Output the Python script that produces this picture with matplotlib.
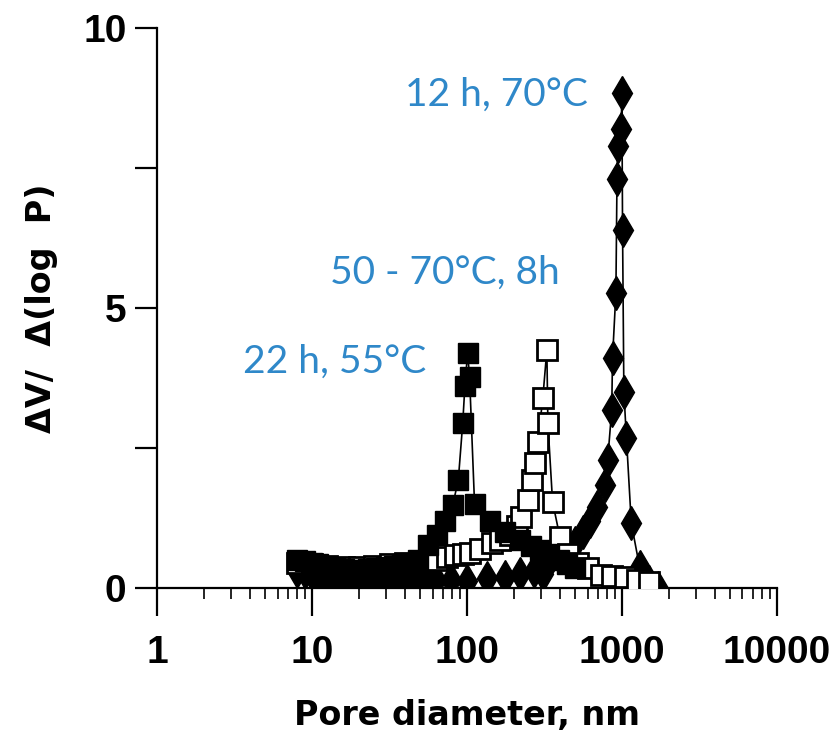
import numpy as np
import matplotlib.pyplot as plt
from matplotlib.ticker import FixedLocator, LogLocator, NullFormatter

# 22 h, 55 C  (filled squares)
d_55 = [8, 9, 10, 11, 12.5, 14, 16, 18, 20, 23, 26, 30, 34, 38, 43, 48, 56,
        64, 72, 81, 88, 94, 97, 101, 104, 112, 140, 176, 219, 260, 297, 340,
        390, 440, 500]
v_55 = [0.5, 0.48, 0.45, 0.42, 0.38, 0.35, 0.33, 0.32, 0.32, 0.33, 0.35, 0.38,
        0.4, 0.42, 0.45, 0.5, 0.77, 0.95, 1.2, 1.48, 1.93, 2.95, 3.6, 4.2, 3.77,
        1.5, 1.2, 1.0, 0.85, 0.75, 0.68, 0.6, 0.5, 0.42, 0.35]

# 50 - 70 C, 8h  (open squares)
d_5070 = [8, 10, 12.5, 16, 20, 25, 32, 40, 50, 64, 74, 84, 94, 105, 121, 145,
          163, 190, 210, 225, 248, 262, 275, 287, 309, 328, 333, 357, 398, 450,
          520, 600, 733, 864, 1050, 1250, 1500]
v_5070 = [0.45, 0.42, 0.4, 0.38, 0.38, 0.4, 0.42, 0.45, 0.48, 0.5, 0.55, 0.58,
          0.6, 0.62, 0.7, 0.8, 0.85, 0.95, 1.1, 1.27, 1.57, 1.93, 2.23, 2.6,
          3.4, 4.25, 2.95, 1.54, 0.91, 0.6, 0.45, 0.35, 0.23, 0.22, 0.2, 0.15,
          0.1]

# 12 h, 70 C  (filled diamonds)
d_70 = [8, 9, 10, 11.2, 12.6, 14, 15.8, 18, 20, 22.5, 25, 28, 32, 36, 40, 45,
        50, 56, 63, 79, 100, 134, 175, 220, 270, 310, 343, 420, 500, 560, 620,
        690, 780, 810, 860, 870, 915, 930, 940, 990, 1000, 1010, 1030, 1070,
        1150, 1300, 1500, 1700]
v_70 = [0.3, 0.28, 0.25, 0.22, 0.2, 0.2, 0.18, 0.18, 0.17, 0.17, 0.17, 0.17,
        0.17, 0.16, 0.15, 0.15, 0.15, 0.15, 0.15, 0.15, 0.12, 0.18, 0.2, 0.25,
        0.3, 0.25, 0.5, 0.65, 0.8, 1.0, 1.2, 1.45, 1.84, 2.29, 3.18, 4.1, 5.27,
        7.3, 7.9, 8.2, 8.84, 6.4, 3.5, 2.68, 1.16, 0.38, 0.1, 0.0]

labels = ["22 h, 55°C", "50 - 70°C, 8h", "12 h, 70°C"]
label_pos = [(3.6, 4.04), (13.1, 5.63), (39.8, 8.8)]

fig = plt.figure(figsize=(8.32, 7.38), dpi=100)
ax = fig.add_axes([0.1887, 0.2033, 0.745, 0.7588])

ax.plot(d_70, v_70, color="black", lw=1.2, marker="d", ms=17.5,
        mfc="black", mec="black", zorder=2)
ax.plot(d_5070, v_5070, color="black", lw=1.2, marker="s", ms=14,
        mfc="white", mec="black", mew=2, zorder=3)
ax.plot(d_55, v_55, color="black", lw=1.2, marker="s", ms=14,
        mfc="black", mec="black", zorder=4)

ax.set_xscale("log")
ax.set_xlim(1, 10000)
ax.set_ylim(0, 10)

for s in ["top", "right"]:
    ax.spines[s].set_visible(False)
for s in ["left", "bottom"]:
    ax.spines[s].set_linewidth(1.6)

ax.xaxis.set_major_locator(FixedLocator([1, 10, 100, 1000, 10000]))
ax.set_xticklabels(["1", "10", "100", "1000", "10000"])
ax.xaxis.set_minor_locator(LogLocator(base=10, subs=np.arange(2, 10)))
ax.xaxis.set_minor_formatter(NullFormatter())
ax.yaxis.set_major_locator(FixedLocator([0, 2.5, 5, 7.5, 10]))
ax.set_yticklabels(["0", "", "5", "", "10"])

ax.tick_params(axis="x", which="major", direction="out", length=20, width=1.6,
               pad=14, labelsize=28)
ax.tick_params(axis="x", which="minor", direction="out", length=8, width=1.2)
ax.tick_params(axis="y", direction="out", length=16, width=1.6, pad=6,
               labelsize=28)
for t in ax.get_xticklabels() + ax.get_yticklabels():
    t.set_fontfamily("Liberation Sans")
    t.set_fontweight("bold")

ax.set_xlabel("Pore diameter, nm", fontsize=24, labelpad=20,
              family="DejaVu Sans", weight="bold")
ax.set_ylabel("ΔV/  Δ(log  P)", fontsize=24, labelpad=18,
              family="DejaVu Sans", weight="bold")

for txt, (x, y) in zip(labels, label_pos):
    ax.text(x, y, txt, fontsize=28, color="#2f88c9", family="Lato",
            ha="left", va="center")

fig.savefig("out.png", dpi=100)
